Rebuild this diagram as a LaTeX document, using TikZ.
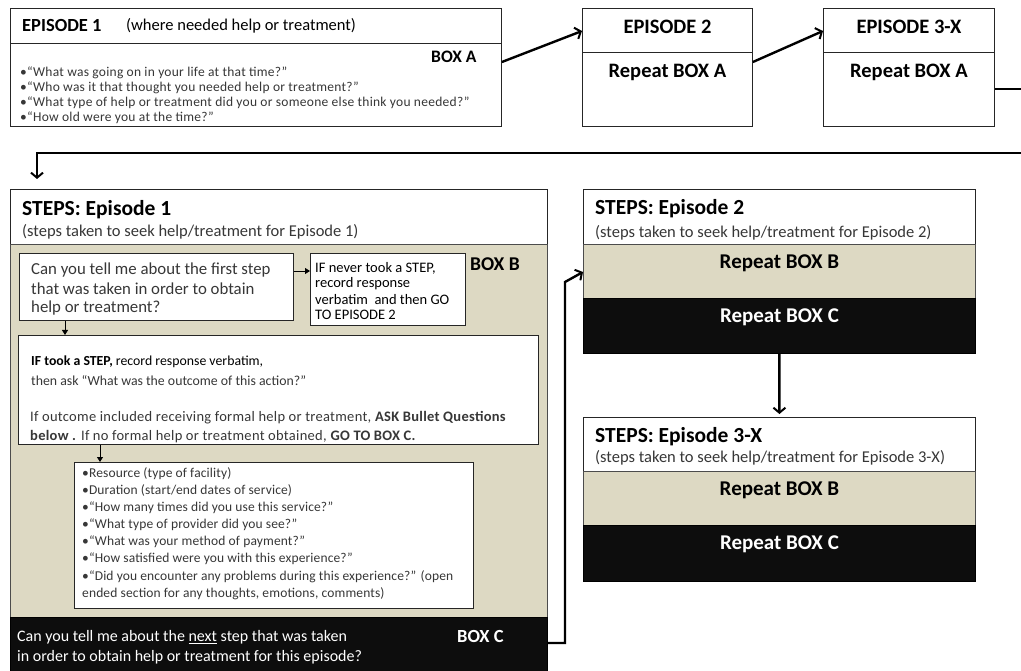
\documentclass[tikz,border=0pt]{standalone}
\usepackage{fontspec}
\setmainfont{Carlito}
\usetikzlibrary{positioning, arrows.meta}
\definecolor{tanfill}{RGB}{221,217,195}
\definecolor{inkgray}{RGB}{55,55,55}
\newcommand{\setfs}[1]{\fontsize{#1}{#1}\selectfont}
\newcommand{\loose}[1]{\addfontfeature{LetterSpace=#1}}
\tikzset{
    panel/.style={rectangle, draw=black!85, line width=0.9pt, fill=white, anchor=north west, inner sep=0pt},
    tanband/.style={rectangle, draw=black!70, line width=0.7pt, fill=tanfill, anchor=north west, inner sep=0pt},
    darkband/.style={rectangle, draw=black, line width=0.7pt, fill=black!95, anchor=north west, inner sep=0pt},
    say/.style={anchor=west, inner sep=0pt, text=inkgray},
    head/.style={anchor=west, inner sep=0pt, font=\bfseries},
    flow/.style={-{Straight Barb[length=5pt, width=12pt, line width=2pt]}, line width=2.4pt},
    tick/.style={-{Triangle[length=5pt, width=6pt]}, line width=0.8pt}
}

\begin{document}
\begin{tikzpicture}[x=1pt, y=-1pt]
    \useasboundingbox (0,0) rectangle (1021,671);
    \clip (0,0) rectangle (1021,671);

    % Episode 1
    \node[panel, minimum width=491, minimum height=118] (ep1) at (10,8) {};
    \draw[line width=0.9pt, black!85] (ep1.west |- 0,43) -- (ep1.east |- 0,43);
    \node[head, font=\setfs{18.5}\bfseries] (ep1title) at (22,26) {EPISODE 1};
    \node[say, font=\setfs{16.5}, text=black] (ep1note) at (126,26) {(where needed help or treatment)};
    \node[head, font=\setfs{17.5}\bfseries] (boxA) at (431,57) {BOX A};
    \foreach \q [count=\i] in {What was going on in your life at that time?,
        Who was it that thought you needed help or treatment?,
        What type of help or treatment did you or someone else think you needed?,
        How old were you at the time?}
        \node[say, font=\setfs{13.5}\loose{2}] (qa\i) at (20,58+15*\i) {•“\q”};

    % Episodes 2 and 3-X
    \node[panel, minimum width=170, minimum height=118] (ep2) at (582,8) {};
    \draw[line width=0.9pt, black!85] (ep2.west |- 0,52) -- (ep2.east |- 0,52);
    \node[font=\setfs{20.5}\bfseries, inner sep=0pt] (ep2title) at (ep2.north |- 0,27) {EPISODE 2};
    \node[font=\setfs{20.5}\bfseries, inner sep=0pt] (ep2rep) at (ep2.north |- 0,72) {Repeat BOX A};

    \node[panel, minimum width=171, minimum height=118] (ep3) at (823,8) {};
    \draw[line width=0.9pt, black!85] (ep3.west |- 0,52) -- (ep3.east |- 0,52);
    \node[font=\setfs{20.5}\bfseries, inner sep=0pt] (ep3title) at (ep3.north |- 0,27) {EPISODE 3-X};
    \node[font=\setfs{20.5}\bfseries, inner sep=0pt] (ep3rep) at (ep3.north |- 0,72) {Repeat BOX A};

    % STEPS: Episode 1
    \node[panel, minimum width=537, minimum height=500] (s1) at (10,189) {};
    \node[tanband, minimum width=537, minimum height=373] (s1b) at (10,244) {};
    \node[darkband, minimum width=537, minimum height=70] (boxc) at (10,617) {};
    \node[head, font=\setfs{21.5}\bfseries] (s1title) at (22,210) {STEPS: Episode 1};
    \node[say, font=\setfs{16.5}] (s1note) at (22,232) {(steps taken to seek help/treatment for Episode 1)};

    \node[panel, minimum width=274, minimum height=67] (q1) at (19,253) {};
    \foreach \t [count=\i] in {Can you tell me about the first step,
        that was taken in order to obtain, help or treatment?}
        \node[say, font=\setfs{16.8}] (q1l\i) at (31,251+19*\i) {\t};

    \node[panel, minimum width=155, minimum height=72] (never) at (310,253) {};
    \foreach \t [count=\i] in {{IF never took a STEP,}, record response,
        verbatim~ and then GO, TO EPISODE 2}
        \node[say, font=\setfs{14.5}, text=black] (nv\i) at (315,252.5+15.7*\i) {\t};
    \node[head, font=\setfs{19.5}\bfseries] (boxB) at (470,264) {BOX B};

    \node[panel, minimum width=520, minimum height=109] (took) at (18,335) {};
    \node[say, font=\setfs{13.8}, text=black] (tk1) at (31,362) {\textbf{IF took a STEP,} record response verbatim,};
    \node[say, font=\setfs{13.8}] (tk2) at (31,381) {then ask “What was the outcome of this action?”};
    \node[say, font=\setfs{14.5}\loose{2}] (tk3) at (30,418) {If outcome included receiving formal help or treatment, \textbf{ASK Bullet Questions}};
    \node[say, font=\setfs{14.5}\loose{2}] (tk4) at (30,437) {\textbf{below .} If no formal help or treatment obtained, \textbf{GO TO BOX C.}};

    \node[panel, minimum width=399, minimum height=146] (bul) at (74,462) {};
    \foreach \t [count=\i] in {•Resource (type of facility),
        •Duration (start/end dates of service),
        •“How many times did you use this service?”,
        •“What type of provider did you see?”,
        •“What was your method of payment?”,
        •“How satisfied were you with this experience?”,
        •“Did you encounter any problems during this experience?” (open,
        {ended section for any thoughts, emotions, comments)}}
        \node[say, font=\setfs{13.5}\loose{1}] (bq\i) at (82,456+17.2*\i) {\t};

    \node[say, font=\setfs{16}, text=white] (c1) at (17,637) {Can you tell me about the \underline{next} step that was taken};
    \node[say, font=\setfs{16}, text=white] (c2) at (17,657) {in order to obtain help or treatment for this episode?};
    \node[head, font=\setfs{18.5}\bfseries, text=white] (boxClabel) at (457,636) {BOX C};

    % STEPS: Episode 2
    \node[panel, minimum width=392, minimum height=164] (s2) at (583,189) {};
    \node[tanband, minimum width=392, minimum height=54] (s2b) at (583,244) {};
    \node[darkband, minimum width=392, minimum height=55] (s2c) at (583,298) {};
    \node[head, font=\setfs{21.5}\bfseries] (s2title) at (595,209) {STEPS: Episode 2};
    \node[say, font=\setfs{16.5}] (s2note) at (595,233) {(steps taken to seek help/treatment for Episode 2)};
    \node[font=\setfs{21}\bfseries, inner sep=0pt] (s2repB) at (s2.north |- 0,263) {Repeat BOX B};
    \node[font=\setfs{21}\bfseries, inner sep=0pt, text=white] (s2repC) at (s2.north |- 0,317) {Repeat BOX C};

    % STEPS: Episode 3-X
    \node[panel, minimum width=392, minimum height=164] (s3) at (583,417) {};
    \node[tanband, minimum width=392, minimum height=54] (s3b) at (583,471) {};
    \node[darkband, minimum width=392, minimum height=56] (s3c) at (583,525) {};
    \node[head, font=\setfs{21.5}\bfseries] (s3title) at (595,437) {STEPS: Episode 3-X};
    \node[say, font=\setfs{16.5}] (s3note) at (595,458) {(steps taken to seek help/treatment for Episode 3-X)};
    \node[font=\setfs{21}\bfseries, inner sep=0pt] (s3repB) at (s3.north |- 0,490) {Repeat BOX B};
    \node[font=\setfs{21}\bfseries, inner sep=0pt, text=white] (s3repC) at (s3.north |- 0,544) {Repeat BOX C};

    % Connections
    \draw[flow] (ep1.east |- 0,62) -- (ep2.west |- 0,31);
    \draw[flow] (ep2.east |- 0,62) -- (ep3.west |- 0,31);
    \draw[flow, shorten >=10pt] (ep3.east |- 0,89) -| (1040,153) -| (s1.north -| 37,0);
    \draw[tick] (q1.east |- 0,271) -- (never.west |- 0,271);
    \draw[tick] (q1.south -| 65,0) -- (took.north -| 65,0);
    \draw[tick] (took.south -| 100,0) -- (bul.north -| 100,0);
    \draw[flow] (boxc.east |- 0,643) -| (565,282) -- (s2.west |- 0,272);
    \draw[flow, shorten >=3pt] (s2c.south) -- (s3.north);

\end{tikzpicture}
\end{document}
